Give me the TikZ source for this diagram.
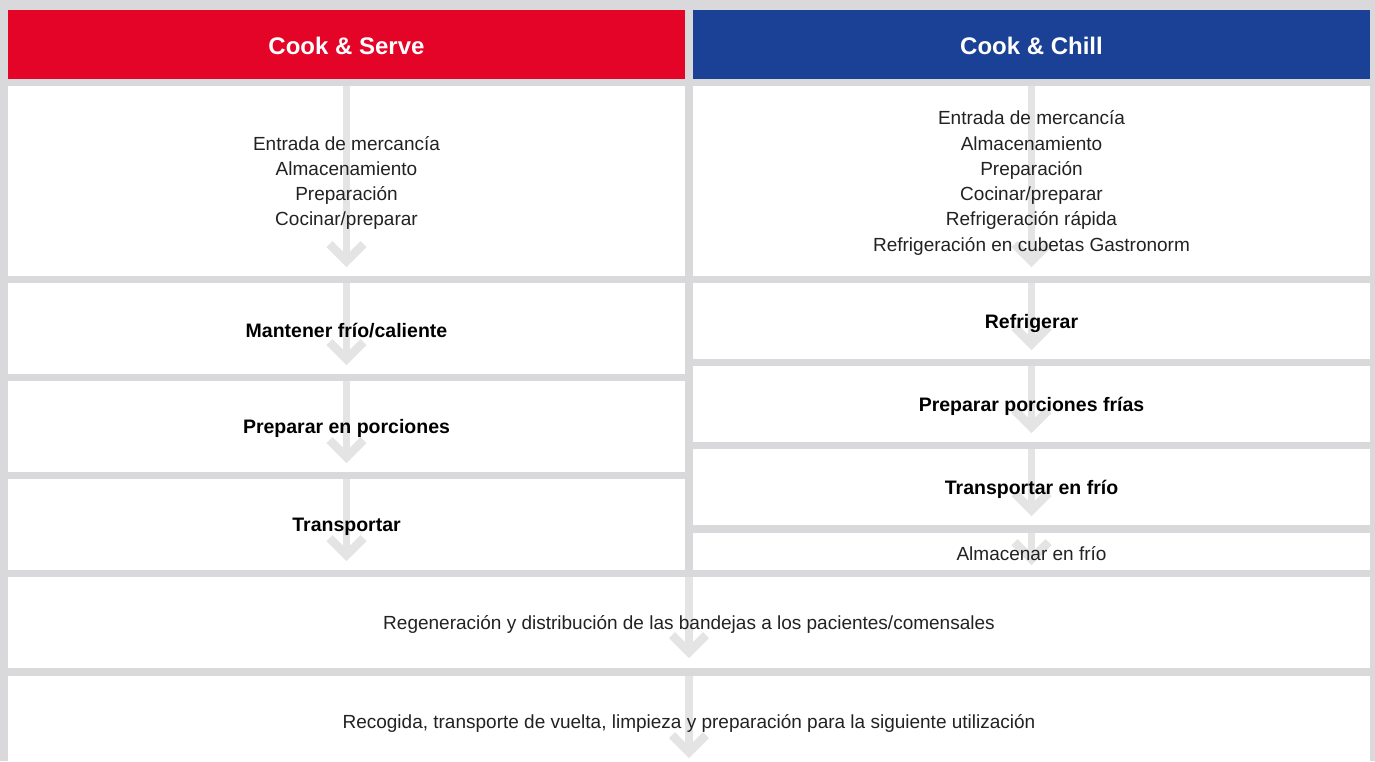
\documentclass[tikz,border=0pt]{standalone}
\usepackage{fontspec}
\setmainfont{Liberation Sans}
\definecolor{bg}{HTML}{D9D9DB}
\definecolor{csred}{HTML}{E40428}
\definecolor{ccblue}{HTML}{1A4195}
\definecolor{arr}{HTML}{E4E4E4}
\definecolor{txt}{HTML}{222222}
\tikzset{
  box/.style={fill=white, draw=none, inner sep=0pt},
  headbox/.style={inner sep=0pt, text=white, font=\fontsize{24}{28}\selectfont\bfseries},
  lbl/.style={text=txt, align=center, yshift=-2pt, font=\fontsize{19}{25.3}\selectfont},
  blbl/.style={text=black, align=center, yshift=-2pt, font=\fontsize{19.5}{24}\selectfont\bfseries},
  shaft/.style={draw=arr, line width=7.5pt},
  chev/.style={draw=arr, line width=8.5pt, line join=miter},
}
\newcommand{\flowarrow}[2]{%
  \draw[shaft] (#1.north) -- ([yshift=#2pt]#1.south);
  \draw[chev] ([xshift=-17pt,yshift=#2pt+17pt]#1.south) -- ([yshift=#2pt]#1.south) -- ([xshift=17pt,yshift=#2pt+17pt]#1.south);
}
\begin{document}
\begin{tikzpicture}[x=1pt,y=-1pt]
\useasboundingbox (0,0) rectangle (1375,761);
\clip (0,0) rectangle (1375,761);
\fill[bg] (0,0) rectangle (1375,761);
% headers
\node[headbox, fill=csred, minimum width=677pt, minimum height=69pt] (hl) at (346.5,44.5) {};
\node[headbox, fill=ccblue, minimum width=677pt, minimum height=69pt] (hr) at (1031.5,44.5) {};
\node[headbox, yshift=-1pt] (thl) at (hl.center) {Cook \& Serve};
\node[headbox, yshift=-1pt] (thr) at (hr.center) {Cook \& Chill};
% boxes
\node[box, minimum width=677pt, minimum height=190pt] (l1) at (346.5,181) {};
\node[box, minimum width=677pt, minimum height=91pt] (l2) at (346.5,328.5) {};
\node[box, minimum width=677pt, minimum height=91pt] (l3) at (346.5,426.5) {};
\node[box, minimum width=677pt, minimum height=91pt] (l4) at (346.5,524.5) {};
\node[box, minimum width=677pt, minimum height=190pt] (r1) at (1031.5,181) {};
\node[box, minimum width=677pt, minimum height=76pt] (r2) at (1031.5,321) {};
\node[box, minimum width=677pt, minimum height=76pt] (r3) at (1031.5,404) {};
\node[box, minimum width=677pt, minimum height=76pt] (r4) at (1031.5,487) {};
\node[box, minimum width=677pt, minimum height=37pt] (r5) at (1031.5,551.5) {};
\node[box, minimum width=1362pt, minimum height=91pt] (f1) at (689,622.5) {};
\node[box, minimum width=1362pt, minimum height=90pt] (f2) at (689,721) {};
% arrows
\flowarrow{l1}{15}
\flowarrow{l2}{15}
\flowarrow{l3}{15}
\flowarrow{l4}{15}
\flowarrow{r1}{15}
\flowarrow{r2}{15}
\flowarrow{r3}{15}
\flowarrow{r4}{15}
\flowarrow{r5}{11}
\flowarrow{f1}{16}
\flowarrow{f2}{14}
% texts
\node[lbl] (tl1) at (l1.center) {Entrada de mercancía\\Almacenamiento\\Preparación\\Cocinar/preparar};
\node[blbl] (tl2) at (l2.center) {Mantener frío/caliente};
\node[blbl] (tl3) at (l3.center) {Preparar en porciones};
\node[blbl] (tl4) at (l4.center) {Transportar};
\node[lbl] (tr1) at (r1.center) {Entrada de mercancía\\Almacenamiento\\Preparación\\Cocinar/preparar\\Refrigeración rápida\\Refrigeración en cubetas Gastronorm};
\node[blbl] (tr2) at (r2.center) {Refrigerar};
\node[blbl] (tr3) at (r3.center) {Preparar porciones frías};
\node[blbl] (tr4) at (r4.center) {Transportar en frío};
\node[lbl] (tr5) at (r5.center) {Almacenar en frío};
\node[lbl] (tf1) at (f1.center) {Regeneración y distribución de las bandejas a los pacientes/comensales};
\node[lbl] (tf2) at (f2.center) {Recogida, transporte de vuelta, limpieza y preparación para la siguiente utilización};
\end{tikzpicture}
\end{document}
